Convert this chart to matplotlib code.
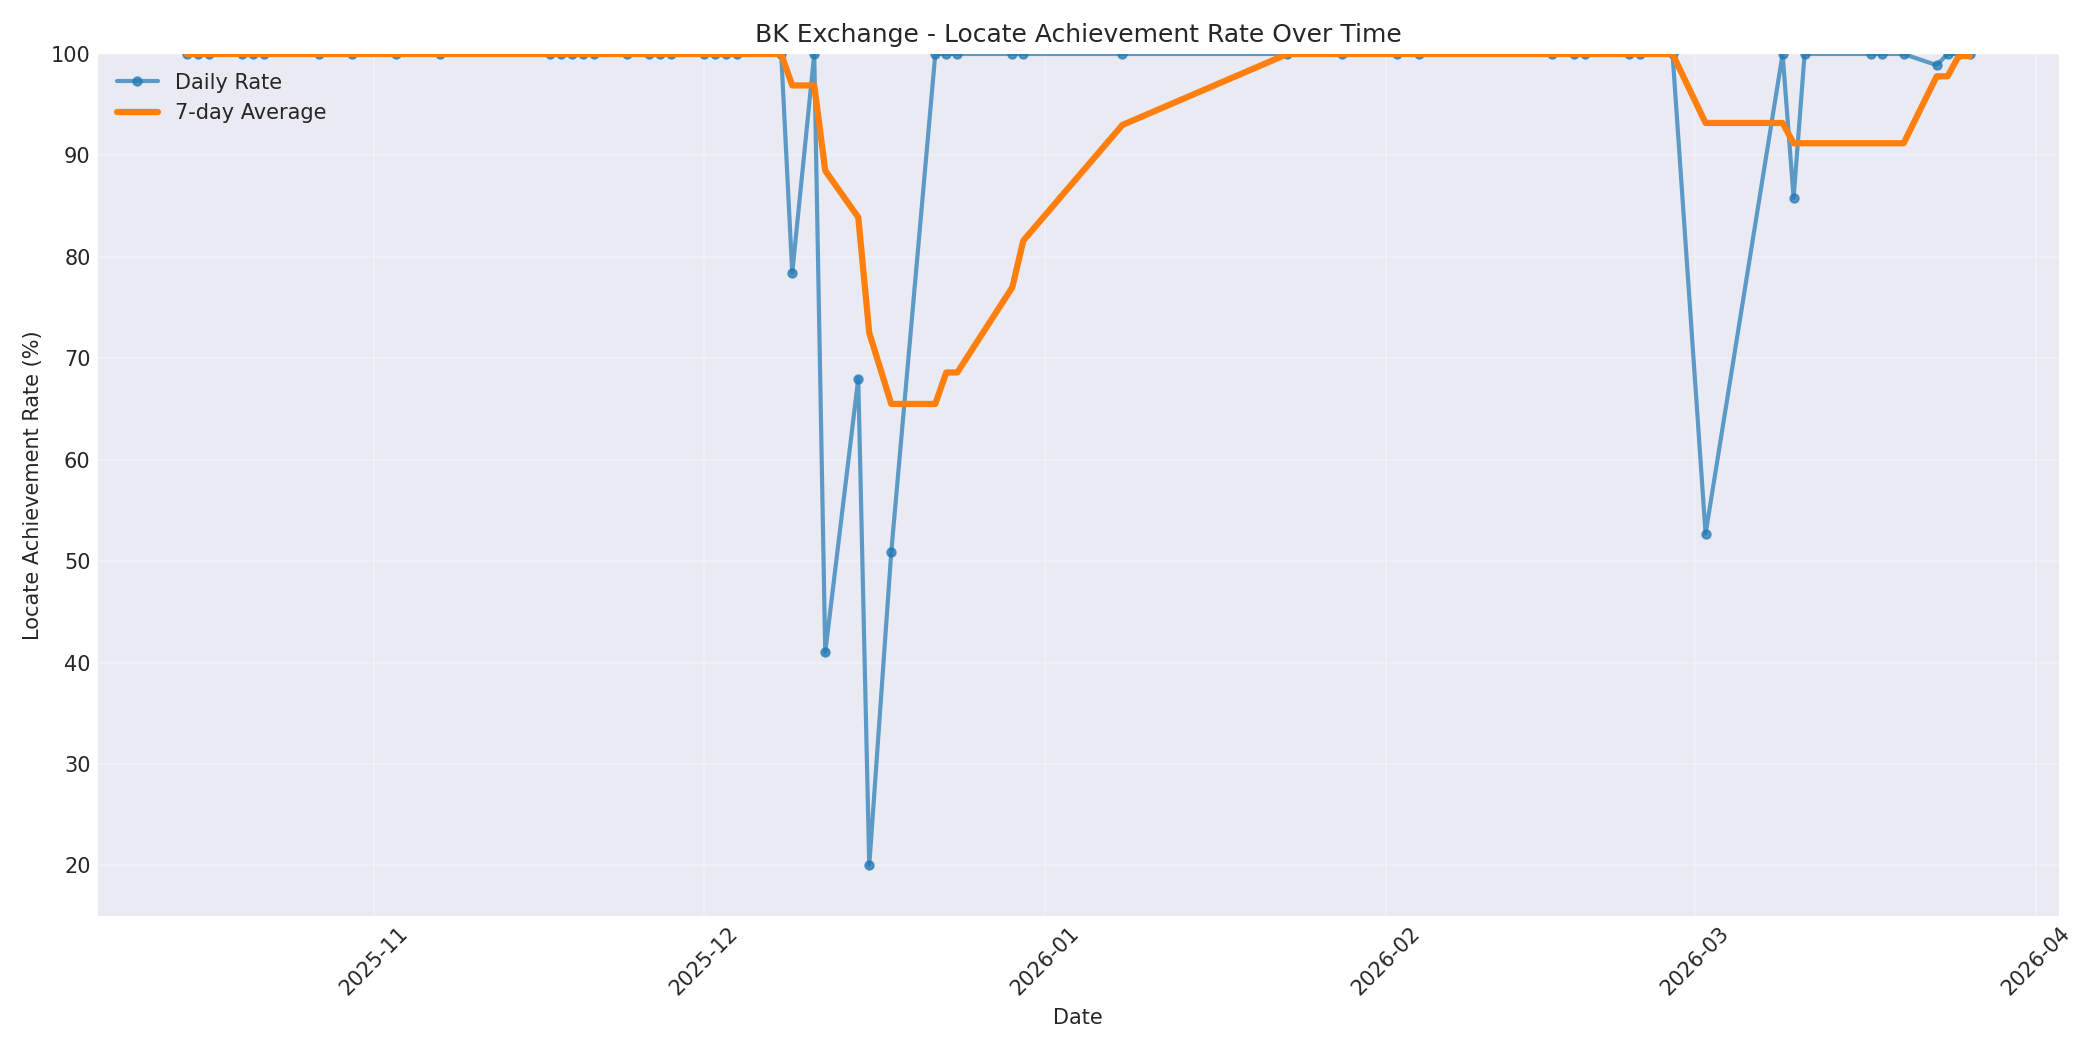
import numpy as np
import pandas as pd
import matplotlib
matplotlib.use('Agg')
from matplotlib import pyplot as plt
import matplotlib.dates as mdates

plt.style.use('seaborn-v0_8-darkgrid')
plt.rcParams['font.family'] = ['DejaVu Sans']

dates = ['2025-10-15', '2025-10-16', '2025-10-17', '2025-10-20', '2025-10-21', '2025-10-22',
         '2025-10-27', '2025-10-30', '2025-11-03', '2025-11-07', '2025-11-17', '2025-11-18',
         '2025-11-19', '2025-11-20', '2025-11-21', '2025-11-24', '2025-11-26', '2025-11-27',
         '2025-11-28', '2025-12-01', '2025-12-02', '2025-12-03', '2025-12-04', '2025-12-08',
         '2025-12-09', '2025-12-11', '2025-12-12', '2025-12-15', '2025-12-16', '2025-12-18',
         '2025-12-22', '2025-12-23', '2025-12-24', '2025-12-29', '2025-12-30', '2026-01-08',
         '2026-01-23', '2026-01-28', '2026-02-02', '2026-02-04', '2026-02-16', '2026-02-18',
         '2026-02-19', '2026-02-23', '2026-02-24', '2026-02-27', '2026-03-02', '2026-03-09',
         '2026-03-10', '2026-03-11', '2026-03-17', '2026-03-18', '2026-03-20', '2026-03-23',
         '2026-03-24', '2026-03-25', '2026-03-26']

daily_rate = [100, 100, 100, 100, 100, 100,
              100, 100, 100, 100, 100, 100,
              100, 100, 100, 100, 100, 100,
              100, 100, 100, 100, 100, 100,
              78.4, 100, 41.0, 68.0, 20.0, 50.9,
              100, 100, 100, 100, 100, 100,
              100, 100, 100, 100, 100, 100,
              100, 100, 100, 100, 52.7, 100,
              85.8, 100, 100, 100, 100, 98.9,
              100, 100, 100]

avg_7day = [100, 100, 100, 100, 100, 100,
            100, 100, 100, 100, 100, 100,
            100, 100, 100, 100, 100, 100,
            100, 100, 100, 100, 100, 100,
            96.9, 96.9, 88.5, 83.9, 72.5, 65.5,
            65.5, 68.6, 68.6, 77.0, 81.6, 93.0,
            100, 100, 100, 100, 100, 100,
            100, 100, 100, 100, 93.2, 93.2,
            91.2, 91.2, 91.2, 91.2, 91.2, 97.8,
            97.8, 99.8, 99.8]

x = pd.to_datetime(dates)

fig, ax = plt.subplots(figsize=(14, 7), dpi=150)
ax.plot(x, daily_rate, marker='o', linewidth=2, markersize=4, alpha=0.7, label='Daily Rate')
ax.plot(x, avg_7day, linewidth=3, label='7-day Average')

ax.set_title('BK Exchange - Locate Achievement Rate Over Time', fontsize=12)
ax.set_xlabel('Date')
ax.set_ylabel('Locate Achievement Rate (%)')
ax.set_ylim(15, 100)
ax.xaxis.set_major_locator(mdates.MonthLocator())
ax.xaxis.set_major_formatter(mdates.DateFormatter('%Y-%m'))
plt.xticks(rotation=45)
ax.grid(True, alpha=0.3)
ax.legend(loc='upper left')

plt.tight_layout()
plt.savefig('out.png')
